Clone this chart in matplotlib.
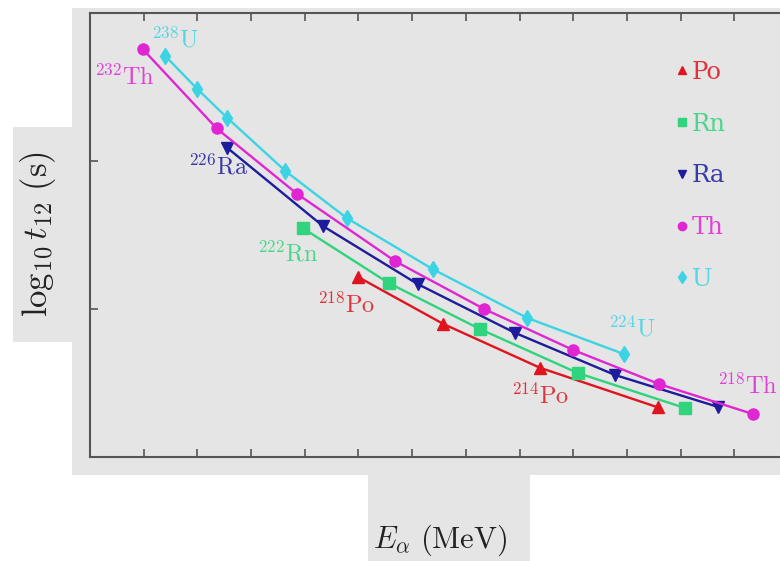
import numpy as np
import matplotlib.pyplot as plt
from matplotlib.patches import Rectangle
from matplotlib.lines import Line2D

plt.rcParams['mathtext.fontset'] = 'cm'
plt.rcParams['font.family'] = ['DejaVu Serif']

# alpha energy (MeV) and log10 half-life (s)
po_e = [6.00, 6.79, 7.69, 8.79]
po_t = [2.15, -1.01, -3.97, -6.65]

rn_e = [5.48, 6.28, 7.13, 8.04, 9.04]
rn_t = [5.47, 1.76, -1.35, -4.32, -6.69]

ra_e = [4.78, 5.67, 6.55, 7.46, 8.39, 9.35]
ra_t = [10.88, 5.60, 1.69, -1.62, -4.46, -6.62]

th_e = [3.99, 4.68, 5.43, 6.34, 7.17, 8.00, 8.80, 9.67]
th_t = [17.57, 12.20, 7.77, 3.24, 0.00, -2.77, -5.07, -7.09]

u_e = [4.20, 4.50, 4.78, 5.32, 5.89, 6.69, 7.57, 8.47]
u_t = [17.10, 14.86, 12.90, 9.32, 6.15, 2.70, -0.60, -3.04]

names = ['Po', 'Rn', 'Ra', 'Th', 'U']
colors = ['#e0141e', '#2fd47c', '#1c1c9c', '#e025d2', '#3cd4e4']
markers = ['^', 's', 'v', 'o', 'd']

# isotope labels: (series index, point index, text, offset px, ha)
iso_labels = [
    (3, 0, r'$^{232}\mathrm{Th}$', (12, -28), 'right'),
    (4, 0, r'$^{238}\mathrm{U}$', (10, 16), 'center'),
    (2, 0, r'$^{226}\mathrm{Ra}$', (-9, -19), 'center'),
    (1, 0, r'$^{222}\mathrm{Rn}$', (-15, -26), 'center'),
    (0, 0, r'$^{218}\mathrm{Po}$', (-12, -28), 'center'),
    (0, 2, r'$^{214}\mathrm{Po}$', (0, -28), 'center'),
    (4, 7, r'$^{224}\mathrm{U}$', (8, 25), 'center'),
    (3, 7, r'$^{218}\mathrm{Th}$', (25, 28), 'right'),
]

bg = '#e5e5e5'
W, H = 780, 561
fig = plt.figure(figsize=(7.8, 5.61), dpi=100)
fig.patch.set_facecolor('white')

# grey patches behind the plot (pixel boxes: x0, y0 from top, x1, y1)
for x0, y0, x1, y1 in [(72, 8, 780, 475), (13, 127, 72, 342), (368, 475, 530, 561)]:
    fig.patches.append(Rectangle((x0 / W, 1 - y1 / H), (x1 - x0) / W, (y1 - y0) / H,
                                 transform=fig.transFigure, facecolor=bg,
                                 edgecolor='none', zorder=-5))

ax = fig.add_axes([90 / W, 1 - 457 / H, 698 / W, 444 / H])
ax.set_facecolor(bg)

series_e = [po_e, rn_e, ra_e, th_e, u_e]
series_t = [po_t, rn_t, ra_t, th_t, u_t]
for e, t, c, m in zip(series_e, series_t, colors, markers):
    ax.plot(e, t, color=c, lw=1.7, marker=m, ms=8, mec=c, mfc=c)

px = 72 / 100
for si, pi, txt, (dx, dy), ha in iso_labels:
    ax.annotate(txt, xy=(series_e[si][pi], series_t[si][pi]),
                xytext=(dx * px, dy * px), textcoords='offset points',
                ha=ha, va='center', fontsize=17.5, color=colors[si], alpha=0.85)

handles = [Line2D([], [], ls='none', marker=m, color=c, ms=6) for m, c in zip(markers, colors)]
leg = ax.legend(handles, names, loc='upper left', bbox_to_anchor=((676 - 90) / 698, (457 - 61) / 444),
                frameon=False, fontsize=17.5, handlelength=0.5, handletextpad=0.15,
                labelspacing=1.18, borderpad=0, borderaxespad=0, labelcolor=colors)
for t in leg.get_texts():
    t.set_alpha(0.85)

ax.set_xlim(3.5, 10.0)
ax.set_ylim(-10, 20)
ax.set_xticks(np.arange(4.0, 10.01, 0.5))
ax.set_yticks([-10, 0, 10, 20])
ax.tick_params(direction='in', length=6, width=1.2, color='#555555',
               top=True, right=True, labelbottom=False, labelleft=False)
for s in ax.spines.values():
    s.set_color('#555555')
    s.set_linewidth(1.5)

fig.text(38 / W, 1 - 234 / H, r'$\log_{10} t_{12}\ \mathrm{(s)}$', rotation=90,
         ha='center', va='center', fontsize=25, color='#222222')
fig.text(440 / W, 1 - 540 / H, r'$E_{\alpha}\ \mathrm{(MeV)}$',
         ha='center', va='center', fontsize=22, color='#222222')

fig.savefig('out.png', dpi=100)
